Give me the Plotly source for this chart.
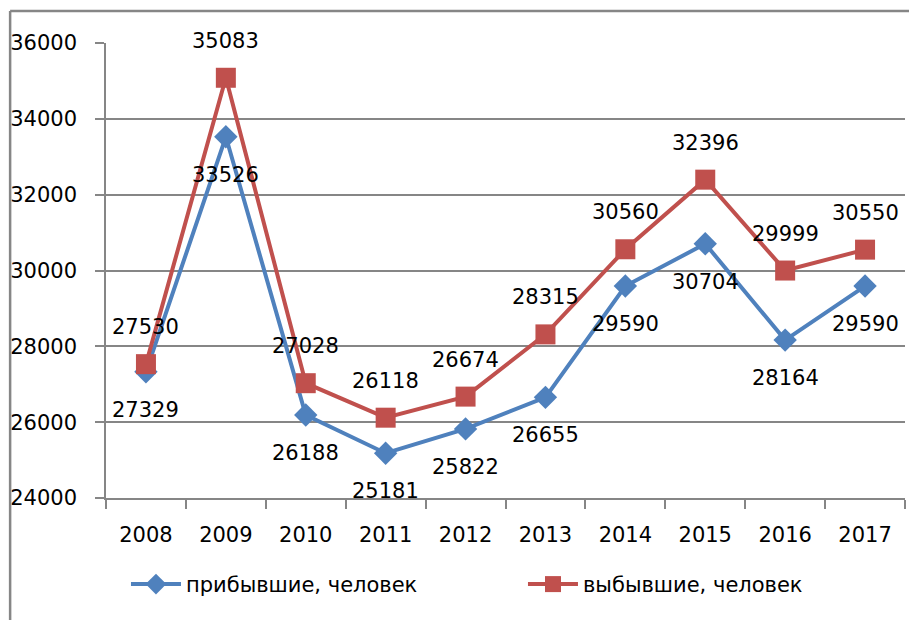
import plotly.graph_objects as go

years = ["2008", "2009", "2010", "2011", "2012", "2013", "2014", "2015", "2016", "2017"]
arrived = [27329, 33526, 26188, 25181, 25822, 26655, 29590, 30704, 28164, 29590]
departed = [27530, 35083, 27028, 26118, 26674, 28315, 30560, 32396, 29999, 30550]
name_arrived = "прибывшие, человек"
name_departed = "выбывшие, человек"
y_ticks = [24000, 26000, 28000, 30000, 32000, 34000, 36000]

BLUE = "#4F81BD"
RED = "#C0504D"
GRID = "#868686"
FONT = "DejaVu Sans"
FS = 21

fig = go.Figure()
fig.add_trace(go.Scatter(
    x=years, y=arrived, name=name_arrived, mode="lines+markers",
    line=dict(color=BLUE, width=4),
    marker=dict(symbol="diamond", size=18, color=BLUE),
))
fig.add_trace(go.Scatter(
    x=years, y=departed, name=name_departed, mode="lines+markers",
    line=dict(color=RED, width=4),
    marker=dict(symbol="square", size=20, color=RED),
))

annotations = []
for i, v in enumerate(arrived):
    annotations.append(dict(x=i, y=v, xref="x", yref="y", text=str(v), showarrow=False, yshift=-38,
                            font=dict(family=FONT, size=FS, color="black")))
for i, v in enumerate(departed):
    annotations.append(dict(x=i, y=v, xref="x", yref="y", text=str(v), showarrow=False, yshift=37,
                            font=dict(family=FONT, size=FS, color="black")))

fig.update_layout(
    width=909, height=620,
    margin=dict(l=106, r=4, t=43, b=122, autoexpand=False),
    paper_bgcolor="white", plot_bgcolor="white",
    font=dict(family=FONT, size=FS, color="black"),
    annotations=annotations,
    showlegend=True,
    legend=dict(orientation="h", x=0.025, xanchor="left", y=-0.19, yanchor="middle",
                entrywidth=332, entrywidthmode="pixels",
                font=dict(family=FONT, size=FS, color="black"),
                itemwidth=50),
    xaxis=dict(
        type="category", range=[-0.5, 9.5],
        showline=True, linecolor=GRID, linewidth=1.5,
        ticks="outside", tickson="boundaries", ticklen=9, tickcolor=GRID, tickwidth=1.5,
        showgrid=False, ticklabelstandoff=17,
        tickfont=dict(family=FONT, size=FS, color="black"),
    ),
    yaxis=dict(
        range=[24000, 36000], tickvals=y_ticks, tickformat="d",
        showline=True, linecolor=GRID, linewidth=1.5,
        ticks="outside", ticklen=9, tickcolor=GRID, tickwidth=1.5,
        showgrid=True, gridcolor=GRID, gridwidth=1.5,
        ticklabelstandoff=14, zeroline=False,
        tickfont=dict(family=FONT, size=FS, color="black"),
    ),
    shapes=[
        dict(type="line", xref="paper", yref="paper", x0=-0.12, x1=1.02, y0=1.0703, y1=1.0703,
             line=dict(color=GRID, width=2.5)),
        dict(type="line", xref="paper", yref="paper", x0=-0.12, x1=-0.12, y0=1.0703, y1=-0.3,
             line=dict(color=GRID, width=2.5)),
    ],
)

fig.write_html("out.html", config={"displayModeBar": False},
               post_script="document.body.style.margin='0';")
